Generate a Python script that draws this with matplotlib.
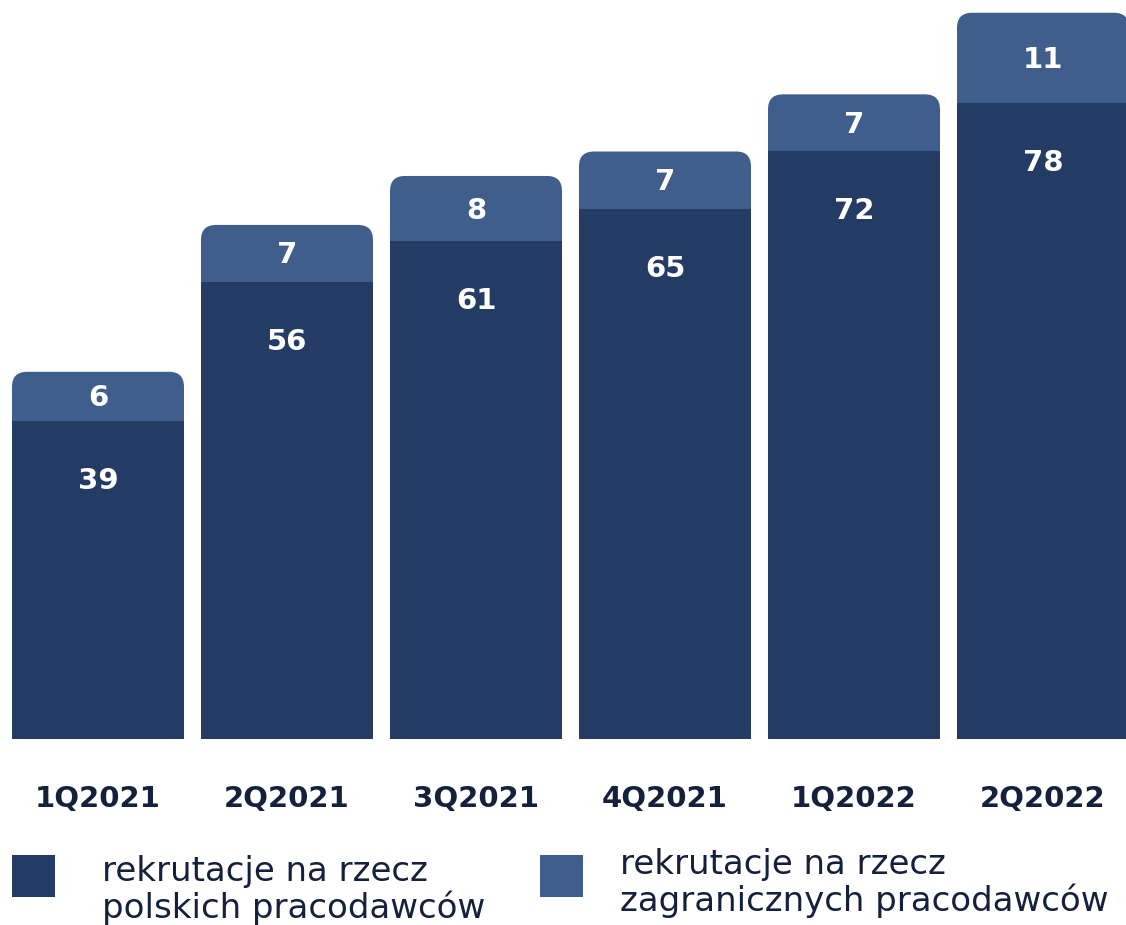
import matplotlib
matplotlib.use("Agg")
import matplotlib.pyplot as plt
from matplotlib.patches import FancyBboxPatch, Rectangle

quarters = ["1Q2021", "2Q2021", "3Q2021", "4Q2021", "1Q2022", "2Q2022"]
polish = [39, 56, 61, 65, 72, 78]
foreign = [6, 7, 8, 7, 7, 11]
legend_labels = ["rekrutacje na rzecz\npolskich pracodawców",
                 "rekrutacje na rzecz\nzagranicznych pracodawców"]

dark = "#243c64"
light = "#3f5e8c"
text_col = "#14213d"

plt.rcParams["font.family"] = ["DejaVu Sans"]

W, H = 1126, 925
fig = plt.figure(figsize=(W / 100, H / 100), dpi=100)
ax = fig.add_axes([0, 186 / H, 1, 739 / H])
ax.set_xlim(-98 / 189, (W - 98) / 189)
ax.set_ylim(0, 739 / 8.16)
ax.axis("off")

x = list(range(len(quarters)))
width = 172 / 189

bars_pl = ax.bar(x, polish, width=width, color=dark, zorder=3)
bars_fr = ax.bar(x, foreign, bottom=polish, width=width, color=light, zorder=2)

# rounded top corners for the upper segment
r_x = 15 / 189
aspect = (15 / 8.16) / r_x
for b in bars_fr:
    b.set_visible(False)
    x0, y0 = b.get_x(), b.get_y()
    w, h = b.get_width(), b.get_height()
    ext = 3
    fb = FancyBboxPatch((x0, y0 - ext), w, h + ext,
                        boxstyle="round,pad=0,rounding_size=%f" % r_x,
                        mutation_aspect=aspect, facecolor=light,
                        edgecolor="none", zorder=2)
    ax.add_patch(fb)

for xi, p, f in zip(x, polish, foreign):
    ax.annotate(str(f), (xi, p + f / 2), xytext=(0, -2),
                textcoords="offset pixels", ha="center", va="center",
                color="white", fontsize=21, fontweight="bold", zorder=4)
    ax.annotate(str(p), (xi, p), xytext=(0, -60), textcoords="offset pixels",
                ha="center", va="center", color="white", fontsize=21,
                fontweight="bold", zorder=4)
    ax.annotate(quarters[xi], (xi, 0), xytext=(0, -60),
                textcoords="offset pixels", ha="center", va="center",
                color=text_col, fontsize=21, fontweight="bold",
                annotation_clip=False)

# legend
for (sx, sy), col in [((12, 855), dark), ((540, 855), light)]:
    fig.patches.append(Rectangle((sx / W, 1 - (sy + 42) / H), 43 / W, 42 / H,
                                 transform=fig.transFigure, facecolor=col,
                                 edgecolor="none"))
for lab, tx, ty in [(legend_labels[0], 102, 890), (legend_labels[1], 620, 883)]:
    fig.text(tx / W, 1 - ty / H, lab, ha="left", va="center", color=text_col,
             fontsize=24.5, linespacing=1.08)

fig.savefig("out.png", dpi=100)
